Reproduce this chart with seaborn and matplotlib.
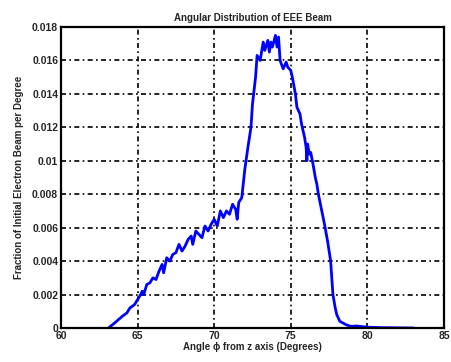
import matplotlib
matplotlib.use("Agg")
import matplotlib.pyplot as plt
import seaborn as sns
import pandas as pd

angle = [63.1, 63.5, 64.0, 64.3, 64.5, 64.8, 65.0, 65.2, 65.3, 65.4, 65.6, 65.8, 66.0, 66.2,
         66.4, 66.6, 66.7, 66.9, 67.1, 67.3, 67.5, 67.7, 67.9, 68.1, 68.3, 68.5, 68.6, 68.8,
         69.0, 69.2, 69.4, 69.6, 69.8, 70.0, 70.2, 70.4, 70.6, 70.8, 71.0, 71.2, 71.4, 71.5,
         71.6, 71.8, 72.0, 72.2, 72.4, 72.5, 72.7, 72.8, 73.0, 73.2, 73.3, 73.5, 73.6, 73.7,
         73.8, 74.0, 74.1, 74.2, 74.3, 74.5, 74.7, 74.8, 75.0, 75.1, 75.3, 75.4, 75.6, 75.7,
         75.9, 76.0, 76.05, 76.1, 76.2, 76.3, 76.45, 76.6, 76.7, 76.8, 77.0, 77.2, 77.4, 77.6,
         77.75, 77.9, 78.0, 78.2, 78.4, 78.6, 78.9, 79.3, 80.0, 81.0, 82.0, 83.0]
fraction = [0.0, 0.0003, 0.0007, 0.0009, 0.0012, 0.0014, 0.0017, 0.0020, 0.0022, 0.0020,
            0.0026, 0.0027, 0.0030, 0.0029, 0.0034, 0.0038, 0.0033, 0.0042, 0.0040, 0.0044,
            0.0045, 0.0050, 0.0046, 0.0049, 0.0053, 0.0055, 0.0050, 0.0058, 0.0056, 0.0054,
            0.0061, 0.0058, 0.0062, 0.0065, 0.0061, 0.0070, 0.0066, 0.0070, 0.0068, 0.0074,
            0.0071, 0.0065, 0.0075, 0.0078, 0.0095, 0.0108, 0.0120, 0.0134, 0.0150, 0.0163,
            0.0160, 0.0171, 0.0166, 0.0172, 0.0165, 0.0171, 0.0168, 0.0175, 0.0168, 0.0174,
            0.0160, 0.0155, 0.0159, 0.0156, 0.0154, 0.0150, 0.0140, 0.0132, 0.0128, 0.0122,
            0.0114, 0.0108, 0.0100, 0.0110, 0.0104, 0.0105, 0.0098, 0.0090, 0.0086, 0.0080,
            0.0071, 0.0062, 0.0052, 0.0040, 0.0020, 0.0012, 0.0008, 0.0004, 0.0003, 0.0002,
            0.0001, 0.00012, 0.00005, 0.00002, 0.00001, 0.0]

x_ticks = [60, 65, 70, 75, 80, 85]
y_ticks = [0, 0.002, 0.004, 0.006, 0.008, 0.01, 0.012, 0.014, 0.016, 0.018]
y_labels = ["0", "0.002", "0.004", "0.006", "0.008", "0.01", "0.012", "0.014", "0.016", "0.018"]

sns.set_style("white")
plt.rcParams['font.family'] = ['Liberation Sans', 'DejaVu Sans']

fig = plt.figure(figsize=(4.51, 3.62), dpi=100)
ax = fig.add_axes([61/451, 34/362, 383/451, 301/362])

df = pd.DataFrame({"angle": angle, "fraction": fraction})
sns.lineplot(data=df, x="angle", y="fraction", color="#0000ff", linewidth=2, ax=ax)

ax.set_xlim(60, 85)
ax.set_ylim(0, 0.018)
ax.set_xticks(x_ticks)
ax.set_xticklabels([str(t) for t in x_ticks], fontsize=7.5, fontweight="bold")
ax.set_yticks(y_ticks)
ax.set_yticklabels(y_labels, fontsize=7.5, fontweight="bold")
ax.grid(True, color="black", linestyle=(0, (3, 2, 1, 2)), linewidth=1.2)
ax.tick_params(direction="in", length=3, width=1.2, pad=2)
for s in ax.spines.values():
    s.set_color("black")
    s.set_linewidth(1.6)
ax.set_title("Angular Distribution of EEE Beam", fontsize=7, fontweight="bold", pad=4)
ax.set_xlabel("Angle \u03d5 from z axis (Degrees)", fontsize=7, fontweight="bold", labelpad=1)
ax.set_ylabel("Fraction of Initial Electron Beam per Degree", fontsize=7, fontweight="bold", labelpad=6)

fig.savefig("out.png", dpi=100)
